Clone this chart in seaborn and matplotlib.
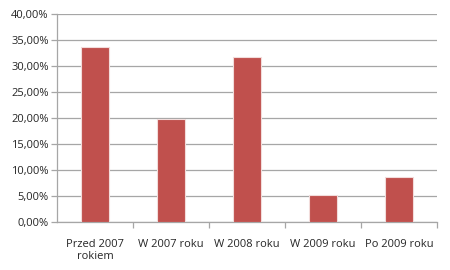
import matplotlib
matplotlib.use("Agg")
import matplotlib.pyplot as plt
import seaborn as sns
import pandas as pd
from matplotlib.ticker import FuncFormatter, MultipleLocator, FixedLocator

categories = ["Przed 2007\nrokiem", "W 2007 roku", "W 2008 roku", "W 2009 roku", "Po 2009 roku"]
values = [33.6, 19.9, 31.7, 5.2, 8.7]
yticks = [0, 5, 10, 15, 20, 25, 30, 35, 40]

sns.set_theme(style="white")
plt.rcParams['font.family'] = ['Open Sans', 'DejaVu Sans']

df = pd.DataFrame({"cat": categories, "val": values})

fig = plt.figure(figsize=(4.5, 2.7), dpi=100)
ax = fig.add_axes([57/450, 1-222/270, 380/450, 208/270])

sns.barplot(data=df, x="cat", y="val", color="#C0504D", saturation=1, width=0.38,
            edgecolor="#F2DCDB", linewidth=0.8, ax=ax, zorder=3)

ax.set_ylim(0, 40)
ax.set_xlim(-0.5, 4.5)
ax.yaxis.set_major_locator(FixedLocator(yticks))
ax.yaxis.set_major_formatter(FuncFormatter(lambda v, p: f"{v:.2f}%".replace('.', ',')))
ax.grid(axis='y', color="#A6A6A6", linewidth=0.9, zorder=0)
ax.set_axisbelow(True)
ax.set_xlabel("")
ax.set_ylabel("")

for s in ["top", "right"]:
    ax.spines[s].set_visible(False)
for s in ["left", "bottom"]:
    ax.spines[s].set_color("#A6A6A6")
    ax.spines[s].set_linewidth(0.9)

ax.tick_params(axis='y', which='major', left=True, length=4, width=0.9, color="#A6A6A6",
               labelsize=8, labelcolor="#262626", pad=2)
ax.tick_params(axis='x', which='major', bottom=False, labelsize=8, labelcolor="#262626", pad=6)
ax.xaxis.set_minor_locator(FixedLocator([0.5, 1.5, 2.5, 3.5, 4.5]))
ax.tick_params(axis='x', which='minor', bottom=True, length=4, width=0.9, color="#A6A6A6")

fig.savefig("out.png", dpi=100)
